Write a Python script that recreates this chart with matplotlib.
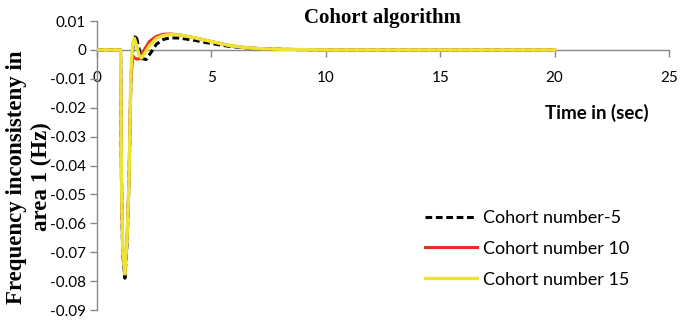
import matplotlib
matplotlib.use("Agg")
import matplotlib.pyplot as plt

# values
t_c5 = [0, 1.03, 1.07, 1.12, 1.22, 1.32, 1.40, 1.48, 1.58, 1.70, 1.82, 1.95, 2.15, 2.35, 2.6, 2.9, 3.2, 3.6, 4.2, 5.0, 5.8, 6.5, 7.2, 8.0, 9.0, 10.0, 12.0, 15.0, 20.0]
y_c5 = [0, 0, -0.045, -0.070, -0.079, -0.066, -0.045, -0.010, 0.002, 0.0052, 0.001, -0.0030, -0.0033, -0.001, 0.0020, 0.0036, 0.0042, 0.0041, 0.0034, 0.0022, 0.0012, 0.0007, 0.0004, 0.0002, 0.0001, 0.0, 0.0, 0.0, 0.0]

t_c10 = [0, 1.03, 1.07, 1.12, 1.22, 1.32, 1.40, 1.48, 1.56, 1.64, 1.75, 1.85, 1.95, 2.1, 2.3, 2.6, 2.9, 3.2, 3.6, 4.2, 5.0, 5.8, 6.5, 7.2, 8.0, 9.0, 10.0, 12.0, 15.0, 20.0]
y_c10 = [0, 0, -0.045, -0.068, -0.0775, -0.064, -0.045, -0.010, -0.002, -0.0028, -0.0032, -0.003, -0.0018, 0.0005, 0.0030, 0.0047, 0.0054, 0.0055, 0.0052, 0.0043, 0.0029, 0.0015, 0.0008, 0.0004, 0.0002, 0.0001, 0.0, 0.0, 0.0, 0.0]

t_c15 = [0, 1.03, 1.07, 1.12, 1.22, 1.32, 1.40, 1.48, 1.56, 1.64, 1.75, 1.85, 1.95, 2.1, 2.3, 2.6, 2.9, 3.2, 3.6, 4.2, 5.0, 5.8, 6.5, 7.2, 8.0, 9.0, 10.0, 12.0, 15.0, 20.0]
y_c15 = [0, 0, -0.045, -0.068, -0.0775, -0.064, -0.045, -0.008, 0.002, 0.004, 0.001, -0.002, -0.0028, -0.001, 0.0015, 0.0040, 0.0050, 0.0053, 0.0052, 0.0043, 0.0029, 0.0015, 0.0008, 0.0004, 0.0002, 0.0001, 0.0, 0.0, 0.0, 0.0]

labels = ["Cohort number-5", "Cohort number 10", "Cohort number 15"]
x_ticks = [0, 5, 10, 15, 20, 25]
y_ticks = [0.01, 0, -0.01, -0.02, -0.03, -0.04, -0.05, -0.06, -0.07, -0.08, -0.09]

sans = "Lato"
serif = "Liberation Serif"
grey = "#898989"

fig = plt.figure(figsize=(6.86, 3.21), dpi=100)
ax = fig.add_axes([97 / 686, 1 - 310 / 321, 572 / 686, 289 / 321])

ax.plot(t_c5, y_c5, color="black", lw=2.2, ls=(0, (2.2, 1.2)), label=labels[0], zorder=3)
ax.plot(t_c10, y_c10, color="#e8321e", lw=2.2, label=labels[1], zorder=4)
ax.plot(t_c15, y_c15, color="#ece333", lw=2.4, label=labels[2], zorder=5)

ax.set_xlim(0, 25)
ax.set_ylim(-0.09, 0.01)
ax.set_xticks(x_ticks)
ax.set_yticks(y_ticks)
ax.set_yticklabels([f"{v:g}" for v in y_ticks])

# x axis sits at y = 0 like the spreadsheet chart
ax.spines["bottom"].set_position(("data", 0))
ax.spines["top"].set_visible(False)
ax.spines["right"].set_visible(False)
for s in ("bottom", "left"):
    ax.spines[s].set_color(grey)
    ax.spines[s].set_linewidth(1.0)
ax.tick_params(axis="both", colors=grey, length=5, width=1, labelcolor="black", labelsize=11)
ax.tick_params(axis="x", pad=10)
ax.tick_params(axis="y", pad=3)
for lab in ax.get_xticklabels() + ax.get_yticklabels():
    lab.set_fontfamily(sans)

fig.text(383 / 686, 1 - 18 / 321, "Cohort algorithm", fontfamily=serif, fontweight="bold",
         fontsize=15, ha="center", va="center")
fig.text(597 / 686, 1 - 113 / 321, "Time in (sec)", fontfamily=sans, fontweight="bold",
         fontsize=13.5, ha="center", va="center")
fig.text(29 / 686, 1 - 177 / 321, "Frequency inconsisteny in\narea 1 (Hz)", fontfamily=serif,
         fontweight="bold", fontsize=16.5, rotation=90, ha="center", va="center", linespacing=1.2)

leg = ax.legend(loc="upper left", bbox_to_anchor=(425 / 686, 1 - 210 / 321), bbox_transform=fig.transFigure,
                frameon=False, prop={"family": sans, "size": 13}, handlelength=2.9, handletextpad=0.3,
                labelspacing=0.82, borderpad=0, borderaxespad=0)

fig.savefig("out.png", dpi=100)
